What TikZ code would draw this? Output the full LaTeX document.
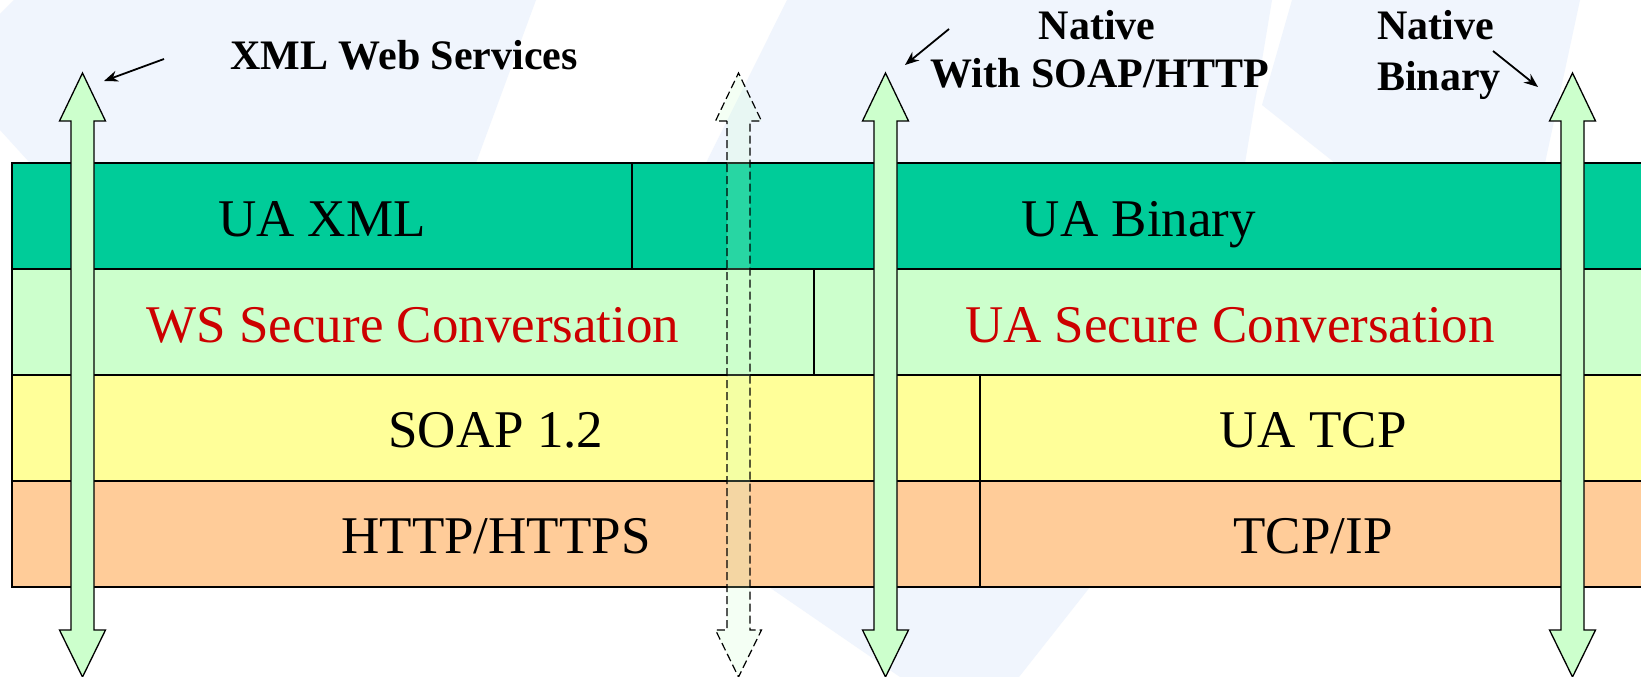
\documentclass[tikz,border=0pt]{standalone}
\usepackage{fontspec}
\setmainfont{Liberation Serif}
\usetikzlibrary{arrows.meta}
\definecolor{rowA}{HTML}{00CC99}
\definecolor{rowB}{HTML}{CCFFCC}
\definecolor{rowC}{HTML}{FFFF99}
\definecolor{rowD}{HTML}{FFCC99}
\definecolor{redtxt}{HTML}{CC0000}
\definecolor{wm}{HTML}{F0F5FD}
\begin{document}
\begin{tikzpicture}[x=1pt,y=-1pt,
  cell/.style={draw=black, line width=1.3pt},
  layertxt/.style={anchor=base, inner sep=0pt, font=\fontsize{53}{60}\selectfont},
  titletxt/.style={inner sep=0pt, font=\fontsize{42}{48}\selectfont\bfseries},
  pointer/.style={line width=1.8pt, -{Stealth[length=14pt,width=11pt]}},
  blockarrow/.style={draw=black, line width=1.3pt, fill=rowB},
  ghostarrow/.style={draw=black, line width=1.2pt, dash pattern=on 8pt off 4pt, fill=rowB, fill opacity=0.2},
  dblarrow/.pic={
    \path[pic actions] (-11.5,121) -- (-23,121) -- (0,73) -- (23,121) -- (11.5,121)
      -- (11.5,630) -- (23,630) -- (0,677) -- (-23,630) -- (-11.5,630) -- cycle;
  }]
\useasboundingbox (0,0) rectangle (1641,677);
\clip (0,0) rectangle (1641,677);
\fill[white] (0,0) rectangle (1641,677);
% faint background watermark
\fill[wm] (0,14) -- (14,0) -- (536,0) -- (476,163) -- (30,163) -- (0,130) -- cycle;
\fill[wm] (787,0) -- (1272,0) -- (1245,163) -- (706,163) -- cycle;
\fill[wm] (1292,0) -- (1580,0) -- (1545,163) -- (1335,163) -- (1262,105) -- cycle;
\fill[wm] (769,587) -- (1090,587) -- (1019,677) -- (900,677) -- cycle;

% layer table
\draw[cell, fill=rowA] (12,163) rectangle (632,269);
\draw[cell, fill=rowA] (632,163) rectangle (1646,269);
\draw[cell, fill=rowB] (12,269) rectangle (814,375);
\draw[cell, fill=rowB] (814,269) rectangle (1646,375);
\draw[cell, fill=rowC] (12,375) rectangle (980,481);
\draw[cell, fill=rowC] (980,375) rectangle (1646,481);
\draw[cell, fill=rowD] (12,481) rectangle (980,587);
\draw[cell, fill=rowD] (980,481) rectangle (1646,587);

\node[layertxt] (uaxml) at (322,236) {UA XML};
\node[layertxt] (uabin) at (1139,236) {UA Binary};
\node[layertxt, text=redtxt] (wssc) at (413,342) {WS Secure Conversation};
\node[layertxt, text=redtxt] (uasc) at (1230,342) {UA Secure Conversation};
\node[layertxt] (soap) at (496,447) {SOAP 1.2};
\node[layertxt] (uatcp) at (1313,447) {UA TCP};
\node[layertxt] (http) at (496,553) {HTTP/HTTPS};
\node[layertxt] (tcpip) at (1313,553) {TCP/IP};

% vertical block arrows
\pic[blockarrow] (xmlws) at (82.5,0) {dblarrow};
\pic[ghostarrow] (ghost) at (738.5,0) {dblarrow};
\pic[blockarrow] (natsoap) at (885.5,0) {dblarrow};
\pic[blockarrow] (natbin) at (1572.5,0) {dblarrow};

% titles
\node[titletxt, anchor=base west] (t1) at (230,70) {XML Web Services};
\node[titletxt, anchor=base] (t2a) at (1097,40) {Native};
\node[titletxt, anchor=base] (t2b) at (1100,88) {With SOAP/HTTP};
\node[titletxt, anchor=base west] (t3a) at (1377,40) {Native};
\node[titletxt, anchor=base west] (t3b) at (1377,90) {Binary};

\coordinate (s1) at (164,59);  \coordinate (e1) at (104,81);
\coordinate (s2) at (949,29);  \coordinate (e2) at (905,65);
\coordinate (s3) at (1493,51); \coordinate (e3) at (1538,87);
\draw[pointer] (s1) -- (e1);
\draw[pointer] (s2) -- (e2);
\draw[pointer] (s3) -- (e3);
\end{tikzpicture}
\end{document}
